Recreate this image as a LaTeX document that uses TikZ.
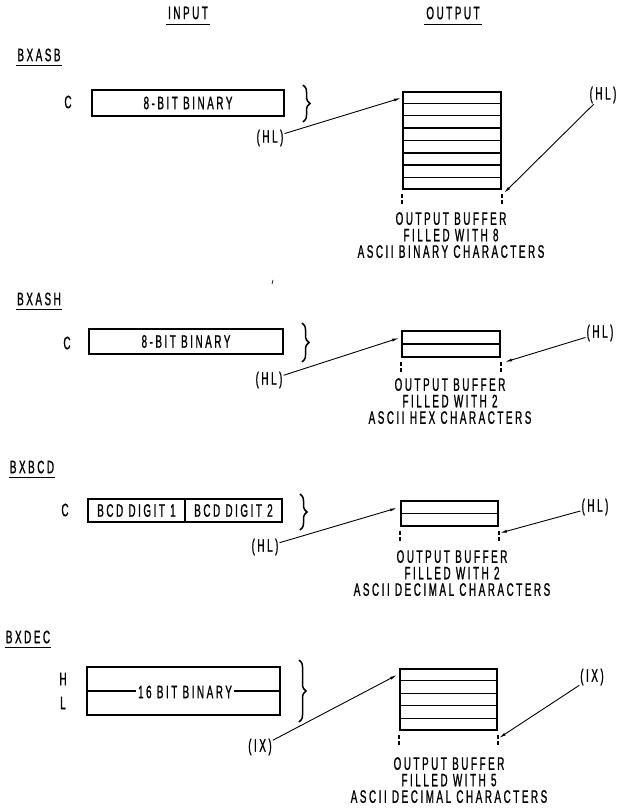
\documentclass[tikz,border=0pt]{standalone}
\usepackage{fontspec}
\setmainfont{Liberation Sans}[FakeStretch=0.55,LetterSpace=14,FakeBold=1.0]
\usetikzlibrary{arrows.meta,calc,decorations.pathreplacing}
\tikzset{
  txt/.style={inner sep=0pt,font=\fontsize{18}{16.5}\selectfont},
  mtxt/.style={txt,align=center,anchor=north},
  inbox/.style={draw,line width=1.6pt,inner sep=0pt,font=\fontsize{18}{16}\selectfont},
  bufbox/.style={draw,line width=1.8pt,inner sep=0pt},
  ptr/.style={-{Latex[length=7pt,width=3pt]},line width=0.9pt,shorten <=1pt},
  ticks/.style={line width=1.4pt,dash pattern=on 4pt off 2pt},
  brc/.style={decorate,decoration={brace,amplitude=7pt},line width=1.5pt},
  uline/.style={line width=1.3pt}
}
\newcommand{\rows}[2]{%
  \foreach \i in {1,...,#2}{%
    \draw[line width=1.4pt] ($(#1.north west)!\i/(#2+1)!(#1.south west)$) -- ($(#1.north east)!\i/(#2+1)!(#1.south east)$);}%
  \draw[ticks] ([yshift=-4pt]#1.south west) -- ++(0,11);
  \draw[ticks] ([yshift=-4pt]#1.south east) -- ++(0,11);
}
\begin{document}
\begin{tikzpicture}[x=1pt,y=-1pt]
\useasboundingbox[fill=white] (0,0) rectangle (617,810);

% headers
\node[txt] (hin) at (188,13) {INPUT};
\draw[uline] ([xshift=-2pt,yshift=-5pt]hin.south west) -- ([xshift=2pt,yshift=-5pt]hin.south east);
\node[txt] (hout) at (453,13) {OUTPUT};
\draw[uline] ([xshift=-2pt,yshift=-5pt]hout.south west) -- ([xshift=2pt,yshift=-5pt]hout.south east);

% ===== BXASB =====
\node[txt] (s1) at (39,55) {BXASB};
\draw[uline] ([xshift=-1pt,yshift=-4pt]s1.south west) -- ([xshift=1pt,yshift=-4pt]s1.south east);
\node[txt] (c1) at (68,102) {C};
\node[inbox,minimum width=192pt,minimum height=26pt] (in1) at (188,103) {8-BIT BINARY};
\draw[brc] (303,85) -- (303,122);
\node[bufbox,minimum width=98pt,minimum height=97pt] (b1) at (452,140.5) {};
\rows{b1}{7}
\node[txt] (hl1) at (270,138) {(HL)};
\node[txt] (hr1) at (603,95) {(HL)};
\coordinate (t1l) at (401,98);
\coordinate (t1r) at (504,193);
\draw[ptr] (hl1) -- (t1l);
\draw[ptr] (hr1) -- (t1r);
\node[mtxt] (o1) at (451,212) {OUTPUT BUFFER\\FILLED WITH 8\\ASCII BINARY CHARACTERS};
\draw[line width=0.7pt] (273,280) -- (272,284);

% ===== BXASH =====
\node[txt] (s2) at (39,299) {BXASH};
\draw[uline] ([xshift=-1pt,yshift=-4pt]s2.south west) -- ([xshift=1pt,yshift=-4pt]s2.south east);
\node[txt] (c2) at (67,343) {C};
\node[inbox,minimum width=194pt,minimum height=25pt] (in2) at (186,341.5) {8-BIT BINARY};
\draw[brc] (302,323) -- (302,362);
\node[bufbox,minimum width=98pt,minimum height=26pt] (b2) at (451,344) {};
\rows{b2}{1}
\node[txt] (hl2) at (269,380) {(HL)};
\node[txt] (hr2) at (600,333) {(HL)};
\coordinate (t2l) at (399,338);
\coordinate (t2r) at (505,362);
\draw[ptr] (hl2) -- (t2l);
\draw[ptr] (hr2) -- (t2r);
\node[mtxt] (o2) at (450,378) {OUTPUT BUFFER\\FILLED WITH 2\\ASCII HEX CHARACTERS};

% ===== BXBCD =====
\node[txt] (s3) at (32,467) {BXBCD};
\draw[uline] ([xshift=-1pt,yshift=-4pt]s3.south west) -- ([xshift=1pt,yshift=-4pt]s3.south east);
\node[txt] (c3) at (65,510) {C};
\node[inbox,minimum width=97pt,minimum height=23pt] (in3a) at (136.5,510.5) {BCD DIGIT 1};
\node[inbox,minimum width=97pt,minimum height=23pt] (in3b) at (233.5,510.5) {BCD DIGIT 2};
\draw[brc] (300,494) -- (300,530);
\node[bufbox,minimum width=97pt,minimum height=25pt] (b3) at (449.5,513.5) {};
\rows{b3}{1}
\node[txt] (hl3) at (265,547) {(HL)};
\node[txt] (hr3) at (595,507) {(HL)};
\coordinate (t3l) at (397,508);
\coordinate (t3r) at (500,533);
\draw[ptr] (hl3) -- (t3l);
\draw[ptr] (hr3) -- (t3r);
\node[mtxt] (o3) at (452,550) {OUTPUT BUFFER\\FILLED WITH 2\\ASCII DECIMAL CHARACTERS};

% ===== BXDEC =====
\node[txt] (s4) at (28,637) {BXDEC};
\draw[uline] ([xshift=-1pt,yshift=-4pt]s4.south west) -- ([xshift=1pt,yshift=-4pt]s4.south east);
\node[txt] (h4) at (63,679) {H};
\node[txt] (l4) at (63,703) {L};
\node[inbox,minimum width=193pt,minimum height=48pt] (in4) at (183.5,691) {};
\draw[line width=1.4pt] (in4.west) -- (in4.east);
\node[txt,fill=white,inner xsep=2pt] (t4) at (185,692) {16 BIT BINARY};
\draw[brc] (299,660) -- (299,722);
\node[bufbox,minimum width=97pt,minimum height=61pt] (b4) at (448.5,699.5) {};
\rows{b4}{4}
\node[txt] (il4) at (260,747) {(IX)};
\node[txt] (ir4) at (592,677) {(IX)};
\coordinate (t4l) at (397,675);
\coordinate (t4r) at (499,738);
\draw[ptr] (il4) -- (t4l);
\draw[ptr] (ir4) -- (t4r);
\node[mtxt] (o4) at (449,757) {OUTPUT BUFFER\\FILLED WITH 5\\ASCII DECIMAL CHARACTERS};
\end{tikzpicture}
\end{document}
